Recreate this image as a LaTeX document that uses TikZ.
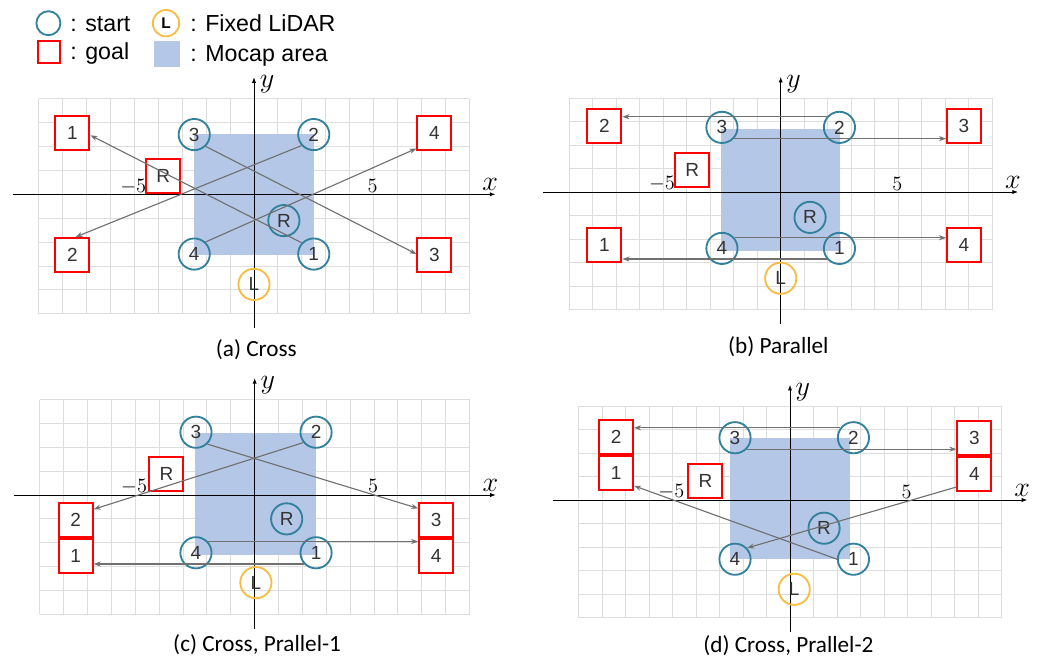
\RequirePackage{fix-cm}
\documentclass[tikz,border=0pt]{standalone}
\usepackage{fontspec}
\setmainfont{Liberation Sans}
\newfontfamily\capfont{Carlito}
\usetikzlibrary{arrows.meta,positioning}

\definecolor{Cstart}{HTML}{31809C}
\definecolor{Cgoal}{HTML}{FF0000}
\definecolor{Cmocap}{HTML}{B4C7E7}
\definecolor{Clidar}{HTML}{F7BD42}
\definecolor{Cgrid}{HTML}{DDDDDD}
\definecolor{Carrow}{HTML}{707070}
\definecolor{Clabel}{HTML}{333333}

\tikzset{
	startpt/.style={circle,draw=Cstart,line width=1.3pt,minimum size=0.78cm,inner sep=0pt,
		text=Clabel,font=\fontsize{13.5}{14}\selectfont},
	goalpt/.style={rectangle,draw=Cgoal,fill=white,line width=1.4pt,minimum size=0.85cm,
		inner sep=0pt,text=Clabel,font=\fontsize{13.5}{14}\selectfont},
	lidarpt/.style={startpt,draw=Clidar},
	route/.style={draw=Carrow,line width=0.8pt,-{Stealth[length=5pt,width=3.6pt]}},
	axisline/.style={line width=0.6pt,-{Latex[length=4pt,width=3pt]}},
	axislabel/.style={inner sep=0pt,font=\fontsize{20}{20}\selectfont},
	ticklabel/.style={inner sep=0pt,font=\fontsize{14.5}{15}\selectfont},
	subcaption/.style={inner sep=0pt,font=\capfont\fontsize{16.5}{18}\selectfont},
	legendtext/.style={anchor=base west,inner sep=0pt,font=\fontsize{16.5}{18}\selectfont}
}

% grid, mocap area and axes of one field
\newcommand{\fieldbase}[3]{%
	\foreach \gx in {-9,...,9}
		\draw[Cgrid,line width=0.7pt] (\gx,-5) -- (\gx,4);
	\foreach \gy in {-5,...,4}
		\draw[Cgrid,line width=0.7pt] (-9,\gy) -- (9,\gy);
	\fill[Cmocap] #2 rectangle #3;
	\coordinate (#1xw) at (-10.1,0);
	\coordinate (#1xe) at (10.1,0);
	\coordinate (#1ys) at (0,-5.6);
	\coordinate (#1yn) at (0,4.9);
	\draw[axisline] (#1xw) -- (#1xe);
	\draw[axisline] (#1ys) -- (#1yn);
	\node[axislabel] (#1xlab) at (9.88,0.42) {$x$};
	\node[axislabel] (#1ylab) at (0.55,4.6) {$y$};
	\node[ticklabel] (#1tickm) at (-5.05,0.33) {$-5$};
	\node[ticklabel] (#1tickp) at (4.96,0.36) {$5$};
}

\begin{document}
\begin{tikzpicture}
	\useasboundingbox (0,0) rectangle (26.225,-16.475);

	% legend
	\node[startpt,minimum size=0.6cm] (lgS) at (1.21,-0.58) {};
	\node[legendtext] (lgStxt) at (1.75,-0.775) {: start};
	\node[goalpt,minimum size=0.55cm] (lgG) at (1.22,-1.29) {};
	\node[legendtext] (lgGtxt) at (1.75,-1.48) {: goal};
	\node[lidarpt,minimum size=0.66cm,text=black,font=\bfseries\fontsize{11}{12}\selectfont] (lgL) at (4.15,-0.58) {L};
	\node[legendtext] (lgLtxt) at (4.75,-0.775) {: Fixed LiDAR};
	\node[fill=Cmocap,minimum size=0.65cm,inner sep=0pt] (lgM) at (4.175,-1.34) {};
	\node[legendtext] (lgMtxt) at (4.75,-1.54) {: Mocap area};

	% (a) cross
	\begin{scope}[shift={(6.35,-4.8575)},x=0.5975cm,y=0.5975cm]
		\fieldbase{a}{(-2.5,-2.55)}{(2.5,2.52)}
		\node[subcaption] (acap) at (0.1,-6.5) {(a) Cross};
		\node[lidarpt] (aL) at (0,-3.77) {L};
		\node[goalpt] (aG1) at (-7.6,2.55) {1};
		\node[goalpt] (aG2) at (-7.6,-2.54) {2};
		\node[goalpt] (aG3) at (7.55,-2.54) {3};
		\node[goalpt] (aG4) at (7.55,2.55) {4};
		\node[goalpt] (aGR) at (-3.8,0.77) {R};
		\node[startpt] (aS1) at (2.5,-2.5) {1};
		\node[startpt] (aS2) at (2.5,2.5) {2};
		\node[startpt] (aS3) at (-2.5,2.5) {3};
		\node[startpt] (aS4) at (-2.5,-2.5) {4};
		\node[startpt] (aSR) at (1.25,-1.1) {R};
		\draw[route] (aS1.137) -- (aG1.354);
		\draw[route] (aS2.222) -- (aG2.80);
		\draw[route] (aS3.314) -- (aG3.177);
		\draw[route] (aS4.47) -- (aG4.220);
	\end{scope}

	% (b) parallel
	\begin{scope}[shift={(19.5175,-4.8)},x=0.5875cm,y=0.5875cm]
		\fieldbase{b}{(-2.55,-2.5)}{(2.52,2.68)}
		\node[subcaption] (bcap) at (-0.1,-6.58) {(b) Parallel};
		\node[lidarpt] (bL) at (0,-3.67) {L};
		\node[goalpt] (bG1) at (-7.5,-2.26) {1};
		\node[goalpt] (bG2) at (-7.5,2.82) {2};
		\node[goalpt] (bG3) at (7.8,2.82) {3};
		\node[goalpt] (bG4) at (7.8,-2.26) {4};
		\node[goalpt] (bGR) at (-3.76,0.92) {R};
		\node[startpt] (bS1) at (2.5,-2.4) {1};
		\node[startpt] (bS2) at (2.5,2.75) {2};
		\node[startpt] (bS3) at (-2.5,2.75) {3};
		\node[startpt] (bS4) at (-2.5,-2.4) {4};
		\node[startpt] (bSR) at (1.25,-1.08) {R};
		\draw[route] (bS2.140) -- (bS2.140 -| bG2.east);
		\draw[route] (bS3.317) -- (bS3.317 -| bG3.west);
		\draw[route] (bS4.40) -- (bS4.40 -| bG4.west);
		\draw[route] (bS1.220) -- (bS1.220 -| bG1.east);
	\end{scope}

	% (c) cross and parallel
	\begin{scope}[shift={(6.3675,-12.375)},x=0.5968cm,y=0.5968cm]
		\fieldbase{c}{(-2.5,-2.51)}{(2.57,2.61)}
		\node[subcaption] (ccap) at (0.1,-6.28) {(c) Cross, Prallel-1};
		\node[lidarpt] (cL) at (0.05,-3.67) {L};
		\node[goalpt] (cG2) at (-7.5,-1.05) {2};
		\node[goalpt,below=0pt of cG2] (cG1) {1};
		\node[goalpt] (cG3) at (7.6,-1.05) {3};
		\node[goalpt,below=0pt of cG3] (cG4) {4};
		\node[goalpt] (cGR) at (-3.7,0.88) {R};
		\node[startpt] (cS1) at (2.57,-2.42) {1};
		\node[startpt] (cS2) at (2.57,2.63) {2};
		\node[startpt] (cS3) at (-2.46,2.63) {3};
		\node[startpt] (cS4) at (-2.46,-2.42) {4};
		\node[startpt] (cSR) at (1.34,-1.0) {R};
		\draw[route] (cS3.314) -- (cG3.147);
		\draw[route] (cS2.219) -- (cG2.31);
		\draw[route] (cS4.43) -- (cS4.43 -| cG4.west);
		\draw[route] (cS1.223) -- (cS1.223 -| cG1.east);
	\end{scope}

	% (d) cross and parallel
	\begin{scope}[shift={(19.75,-12.5)},x=0.5875cm,y=0.5875cm]
		\fieldbase{d}{(-2.55,-2.52)}{(2.55,2.65)}
		\node[subcaption] (dcap) at (-0.07,-6.2) {(d) Cross, Prallel-2};
		\node[lidarpt] (dL) at (0.18,-3.8) {L};
		\node[goalpt] (dG2) at (-7.4,2.67) {2};
		\node[goalpt,below=0pt of dG2] (dG1) {1};
		\node[goalpt] (dG3) at (7.85,2.62) {3};
		\node[goalpt,below=0pt of dG3] (dG4) {4};
		\node[goalpt] (dGR) at (-3.6,0.82) {R};
		\node[startpt] (dS1) at (2.7,-2.52) {1};
		\node[startpt] (dS2) at (2.7,2.65) {2};
		\node[startpt] (dS3) at (-2.34,2.65) {3};
		\node[startpt] (dS4) at (-2.34,-2.52) {4};
		\node[startpt] (dSR) at (1.45,-1.2) {R};
		\draw[route] (dS2.143) -- (dS2.143 -| dG2.east);
		\draw[route] (dS3.316) -- (dS3.316 -| dG3.west);
		\draw[route] (dS1.west) -- (dG1.325);
		\draw[route] (dG4.215) -- (dS4.43);
	\end{scope}
\end{tikzpicture}
\end{document}
